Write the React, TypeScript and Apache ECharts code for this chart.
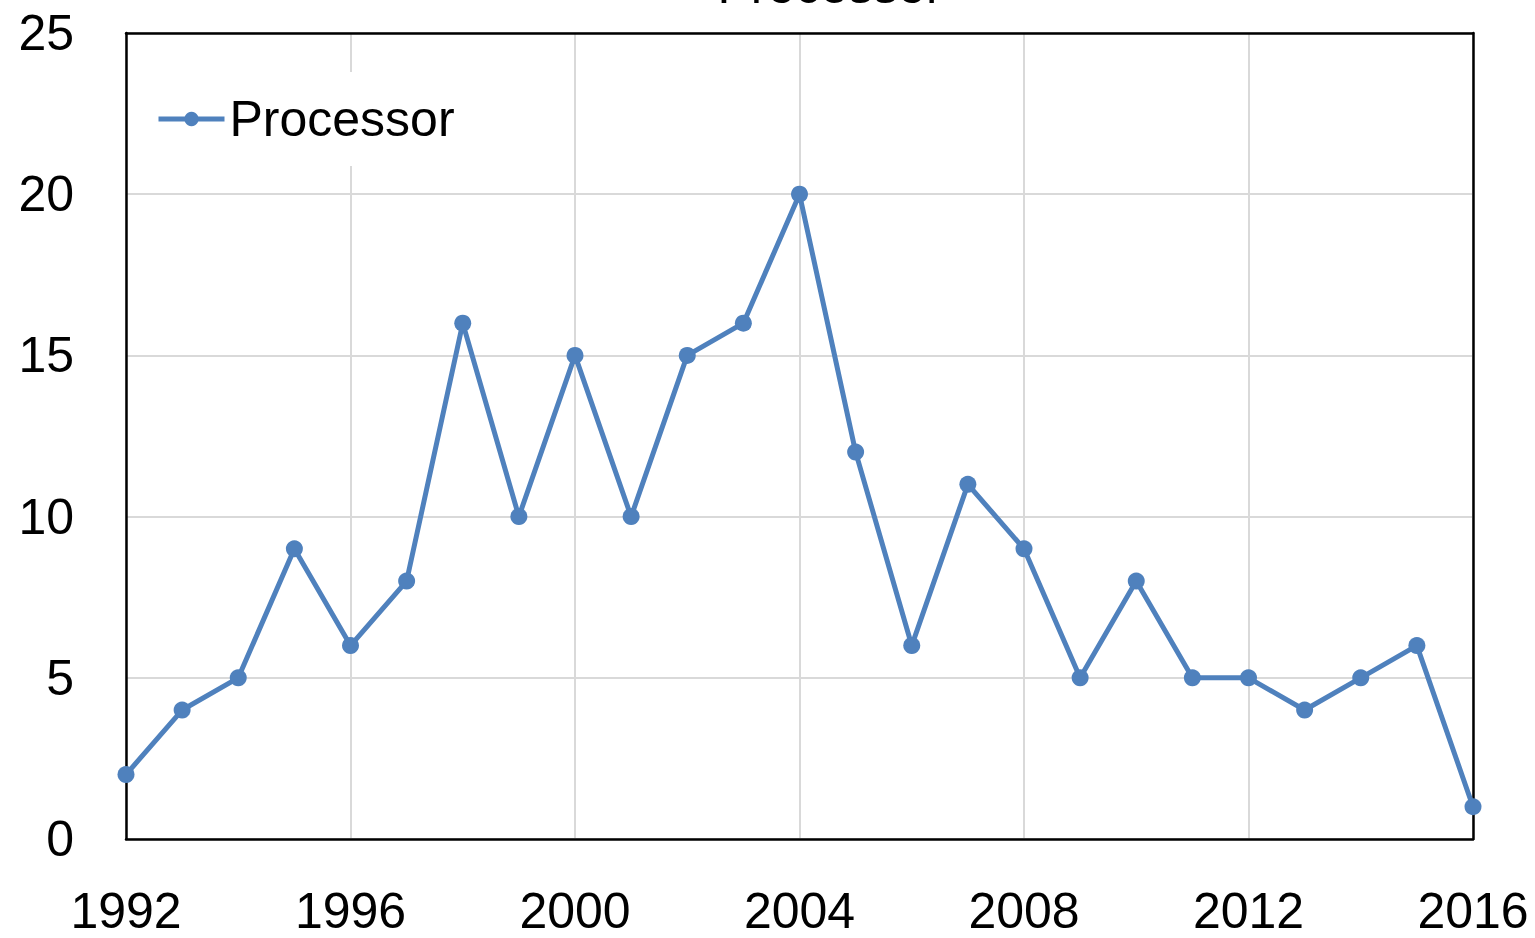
import React, { useEffect, useRef } from "react";
import * as echarts from "echarts";

const years = [1992, 1993, 1994, 1995, 1996, 1997, 1998, 1999, 2000, 2001, 2002, 2003, 2004, 2005, 2006, 2007, 2008, 2009, 2010, 2011, 2012, 2013, 2014, 2015, 2016];
const processor = [2, 4, 5, 9, 6, 8, 16, 10, 15, 10, 15, 16, 20, 12, 6, 11, 9, 5, 8, 5, 5, 4, 5, 6, 1];
const seriesName = "Processor";
const chartTitle = "Processor";

export default function App() {
  const ref = useRef<HTMLDivElement>(null);
  useEffect(() => {
    if (!ref.current) return;
    const chart = echarts.init(ref.current, undefined, { renderer: "svg" });
    const font = "'Liberation Sans', Arial, sans-serif";
    const frame = { show: true, onZero: false, lineStyle: { color: "#000", width: 2.5 } };
    chart.setOption({
      animation: false,
      backgroundColor: "#fff",
      graphic: [
        {
          type: "text",
          x: 830,
          y: 11,
          style: {
            text: chartTitle,
            font: `50px ${font}`,
            fill: "#000",
            textAlign: "center",
            textVerticalAlign: "bottom",
          },
        },
      ],
      grid: {
        left: 126,
        right: 1535 - 1473,
        top: 33,
        bottom: 938 - 839,
      },
      legend: {
        left: 146,
        top: 72,
        backgroundColor: "#fff",
        padding: [22, 10, 22, 10],
        itemWidth: 66,
        itemHeight: 18,
        itemGap: 10,
        lineStyle: { width: 5 },
        textStyle: { fontFamily: font, fontSize: 50, color: "#000" },
        data: [seriesName],
      },
      xAxis: [
        {
          type: "value",
          min: 1992,
          max: 2016,
          interval: 4,
          axisLine: frame,
          axisTick: { show: false },
          splitLine: { show: true, lineStyle: { color: "#d9d9d9", width: 2 } },
          axisLabel: {
            margin: 50,
            fontFamily: font,
            fontSize: 50,
            lineHeight: 44,
            color: "#000",
            formatter: (v: number) => String(v),
          },
        },
        {
          type: "value",
          position: "top",
          min: 1992,
          max: 2016,
          interval: 4,
          axisLine: frame,
          axisTick: { show: false },
          axisLabel: { show: false },
          splitLine: { show: false },
        },
      ],
      yAxis: [
        {
          type: "value",
          min: 0,
          max: 25,
          interval: 5,
          axisLine: frame,
          axisTick: { show: false },
          splitLine: { show: true, lineStyle: { color: "#d9d9d9", width: 2 } },
          axisLabel: {
            margin: 52,
            fontFamily: font,
            fontSize: 50,
            color: "#000",
          },
        },
        {
          type: "value",
          position: "right",
          min: 0,
          max: 25,
          interval: 5,
          axisLine: frame,
          axisTick: { show: false },
          axisLabel: { show: false },
          splitLine: { show: false },
        },
      ],
      series: [
        {
          name: seriesName,
          type: "line",
          xAxisIndex: 0,
          yAxisIndex: 0,
          data: years.map((y, i) => [y, processor[i]]),
          symbol: "circle",
          symbolSize: 17,
          itemStyle: { color: "#4F81BD" },
          lineStyle: { color: "#4F81BD", width: 5 },
          z: 5,
        },
      ],
    });
    return () => chart.dispose();
  }, []);
  return (
    <div
      ref={ref}
      style={{ position: "fixed", left: 0, top: 0, width: 1535, height: 938 }}
    />
  );
}
